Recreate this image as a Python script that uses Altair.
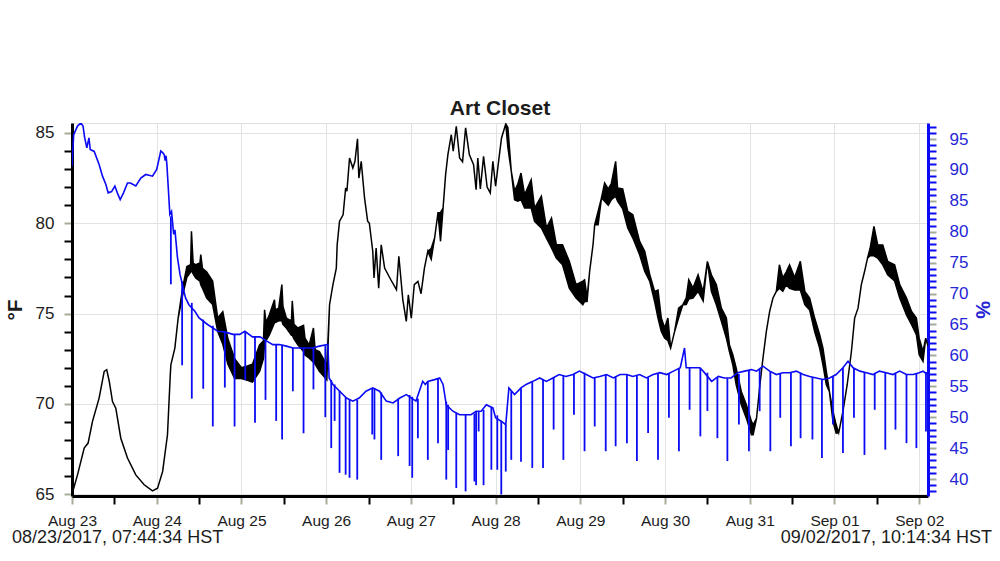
import altair as alt
import pandas as pd

FONT = "Liberation Sans"
TITLE = "Art Closet"
X_LABELS = ["Aug 23", "Aug 24", "Aug 25", "Aug 26", "Aug 27", "Aug 28",
            "Aug 29", "Aug 30", "Aug 31", "Sep 01", "Sep 02"]
START_LABEL = "08/23/2017, 07:44:34 HST"
END_LABEL = "09/02/2017, 10:14:34 HST"
X_END = 10.104          # days from 08/23 07:44:34 to 09/02 10:14:34
T_DOMAIN = [64.9, 85.55]
H_DOMAIN = [37.25, 97.6]

# Temperature (deg F): day offset, lower and upper envelope of the trace
TEMP_DAY = [
    0.0, 0.065, 0.144, 0.19, 0.242, 0.32, 0.38, 0.41, 0.44, 0.478,
    0.517, 0.576, 0.655, 0.753, 0.852, 0.95, 1.01, 1.07, 1.127, 1.16,
    1.167, 1.214, 1.253, 1.305, 1.356, 1.40, 1.41, 1.43, 1.46, 1.51,
    1.52, 1.54, 1.59, 1.66, 1.72, 1.78, 1.84, 1.92, 2.0, 2.07,
    2.13, 2.214, 2.26, 2.273, 2.29, 2.33, 2.39, 2.40, 2.44, 2.477,
    2.49, 2.53, 2.59, 2.60, 2.62, 2.666, 2.733, 2.75, 2.80, 2.85,
    2.87, 2.92, 3.008, 3.04, 3.08, 3.12, 3.13, 3.158, 3.20, 3.23,
    3.245, 3.276, 3.315, 3.34, 3.37, 3.386, 3.414, 3.453, 3.49, 3.51,
    3.55, 3.565, 3.59, 3.62, 3.65, 3.69, 3.76, 3.83, 3.858, 3.905,
    3.946, 3.97, 4.005, 4.04, 4.083, 4.12, 4.16, 4.2, 4.24, 4.28,
    4.32, 4.35, 4.38, 4.41, 4.437, 4.477, 4.50, 4.536, 4.575, 4.61,
    4.646, 4.69, 4.74, 4.77, 4.79, 4.82, 4.858, 4.90, 4.937, 4.968,
    5.0, 5.04, 5.07, 5.094, 5.12, 5.145, 5.185, 5.224, 5.26, 5.30,
    5.342, 5.42, 5.46, 5.54, 5.60, 5.66, 5.717, 5.79, 5.87, 5.95,
    6.03, 6.05, 6.08, 6.11, 6.15, 6.17, 6.21, 6.25, 6.287, 6.33,
    6.366, 6.417, 6.44, 6.5, 6.56, 6.62, 6.70, 6.76, 6.82, 6.877,
    6.917, 6.956, 6.995, 7.034, 7.066, 7.113, 7.16, 7.21, 7.25, 7.28,
    7.33, 7.39, 7.45, 7.50, 7.547, 7.606, 7.665, 7.724, 7.76, 7.80,
    7.84, 7.90, 7.96, 8.02, 8.04, 8.08, 8.12, 8.156, 8.196, 8.235,
    8.274, 8.314, 8.35, 8.39, 8.43, 8.47, 8.53, 8.597, 8.65, 8.707,
    8.766, 8.825, 8.864, 8.904, 8.94, 8.982, 9.02, 9.05, 9.10, 9.15,
    9.20, 9.238, 9.278, 9.317, 9.356, 9.39, 9.42, 9.466, 9.51, 9.57,
    9.628, 9.71, 9.77, 9.85, 9.91, 9.967, 10.0, 10.045, 10.077, 10.104,
]
TEMP_LO = [
    65.0, 66.07, 67.55, 67.83, 69.03, 70.32, 71.8, 71.89, 71.24, 70.13,
    69.76, 68.1, 67.0, 66.07, 65.52, 65.18, 65.33, 66.26, 68.29, 71.6,
    72.16, 73.09, 74.75, 76.0, 77.0, 77.3, 77.4, 77.2, 76.97, 76.8,
    76.6, 76.4, 75.86, 75.5, 74.0, 73.3, 72.2, 71.4, 71.4, 71.3,
    71.2, 71.8, 72.5, 73.3, 73.5, 73.82, 74.5, 74.5, 74.6, 74.6,
    74.4, 74.2, 73.8, 73.8, 73.6, 73.27, 72.9, 72.7, 72.53, 72.3,
    72.2, 71.8, 71.33, 75.49, 76.6, 77.52, 78.81, 80.11, 80.47, 81.95,
    81.77, 83.61, 83.06, 83.43, 84.68, 82.5, 83.43, 81.4, 80.11, 80.0,
    78.45, 76.97, 78.63, 76.41, 78.81, 77.52, 76.9, 76.32, 78.17, 75.76,
    74.57, 76.04, 74.75, 76.6, 76.78, 76.1, 77.52, 78.45, 78.0, 79.18,
    80.57, 79.0, 80.84, 82.69, 83.8, 84.9, 83.99, 85.37, 83.61, 83.4,
    85.28, 83.8, 83.24, 81.86, 83.61, 81.9, 83.7, 82.0, 81.68, 83.43,
    82.05, 83.61, 84.72, 85.09, 85.5, 84.2, 82.88, 81.3, 81.22, 81.3,
    80.84, 80.84, 80.11, 79.74, 79.18, 78.63, 78.07, 77.7, 76.41, 75.86,
    75.49, 75.67, 75.67, 77.34, 78.81, 79.92, 79.92, 81.4, 81.22, 81.0,
    81.3, 81.5, 81.22, 80.8, 79.74, 79.18, 78.26, 77.34, 76.78, 75.67,
    74.75, 74.01, 73.64, 73.5, 73.09, 74.01, 74.75, 75.49, 75.5, 75.8,
    75.86, 76.23, 75.7, 77.89, 76.23, 75.49, 74.57, 73.64, 72.9, 72.16,
    71.06, 69.95, 69.21, 68.29, 68.29, 69.2, 71.06, 72.53, 74.01, 75.12,
    75.86, 76.23, 76.4, 76.23, 76.6, 76.4, 76.3, 76.3, 75.49, 75.2,
    74.01, 73.09, 72.16, 71.06, 70.69, 69.03, 68.38, 68.4, 69.58, 71.06,
    72.9, 74.75, 75.3, 76.6, 77.34, 78.07, 78.2, 78.2, 78.07, 77.7,
    77.15, 76.8, 75.86, 74.93, 74.38, 73.83, 72.72, 72.35, 73.64, 73.2,
]
TEMP_HI = [
    65.0, 66.07, 67.55, 67.83, 69.03, 70.32, 71.8, 71.89, 71.24, 70.13,
    69.76, 68.1, 67.0, 66.07, 65.52, 65.18, 65.33, 66.26, 68.29, 71.6,
    72.16, 73.09, 74.75, 76.4, 77.6, 77.7, 79.55, 77.8, 77.7, 77.8,
    78.26, 77.5, 77.3, 76.8, 74.75, 75.1, 73.6, 72.5, 72.0, 72.1,
    72.2, 73.27, 73.5, 75.21, 74.5, 74.93, 75.76, 75.2, 75.3, 76.6,
    75.4, 74.75, 74.6, 75.7, 74.4, 74.2, 74.35, 73.64, 73.27, 74.2,
    73.0, 72.9, 72.16, 75.49, 76.6, 77.52, 78.81, 80.11, 80.47, 81.95,
    81.77, 83.61, 83.06, 83.43, 84.68, 82.5, 83.43, 81.4, 80.11, 80.0,
    78.45, 76.97, 78.63, 76.41, 78.81, 77.52, 76.9, 76.32, 78.17, 75.76,
    74.57, 76.04, 74.75, 76.6, 76.78, 76.1, 77.52, 78.45, 78.6, 79.18,
    80.57, 80.6, 80.84, 82.69, 83.8, 84.9, 83.99, 85.37, 83.61, 83.4,
    85.28, 83.8, 83.24, 81.86, 83.61, 81.9, 83.7, 82.0, 81.68, 83.43,
    82.05, 83.61, 84.72, 85.09, 85.5, 85.3, 82.88, 81.8, 82.14, 82.78,
    81.58, 82.41, 80.84, 81.5, 79.74, 80.29, 78.81, 78.81, 77.89, 76.6,
    76.8, 76.87, 75.9, 77.34, 78.81, 79.92, 80.66, 81.4, 82.23, 81.9,
    82.2, 83.43, 81.95, 81.9, 80.66, 80.47, 79.0, 78.45, 77.15, 76.23,
    76.3, 74.75, 74.2, 74.75, 73.09, 74.01, 75.3, 75.49, 75.86, 76.87,
    76.41, 77.15, 76.2, 77.89, 77.15, 76.6, 75.3, 74.75, 73.27, 72.72,
    71.98, 70.69, 69.95, 69.03, 68.84, 69.2, 71.06, 72.53, 74.01, 75.12,
    75.86, 76.23, 77.7, 76.97, 77.3, 77.7, 77.0, 77.89, 76.23, 75.86,
    74.75, 73.83, 73.09, 71.8, 70.69, 69.58, 68.84, 68.4, 69.58, 71.06,
    72.9, 74.75, 75.3, 76.6, 77.34, 78.07, 78.6, 79.83, 78.81, 78.8,
    77.89, 77.7, 76.6, 75.86, 75.12, 74.75, 73.64, 72.9, 73.64, 73.2,
]

# Relative humidity (%) baseline trace
HUM_DAY = [
    0.0, 0.02, 0.065, 0.104, 0.13, 0.15, 0.175, 0.20, 0.215, 0.262,
    0.32, 0.36, 0.40, 0.427, 0.467, 0.506, 0.535, 0.569, 0.608, 0.655,
    0.69, 0.753, 0.812, 0.871, 0.95, 1.0, 1.048, 1.07, 1.088, 1.10,
    1.11, 1.12, 1.155, 1.175, 1.20, 1.215, 1.245, 1.275, 1.34, 1.38,
    1.45, 1.50, 1.60, 1.72, 1.80, 1.90, 1.98, 2.04, 2.13, 2.22,
    2.30, 2.37, 2.45, 2.53, 2.61, 2.686, 2.76, 2.84, 2.92, 3.02,
    3.035, 3.08, 3.16, 3.24, 3.315, 3.39, 3.47, 3.55, 3.63, 3.71,
    3.79, 3.87, 3.946, 4.06, 4.14, 4.17, 4.2, 4.28, 4.34, 4.38,
    4.418, 4.496, 4.575, 4.654, 4.71, 4.77, 4.83, 4.89, 4.968, 5.0,
    5.067, 5.12, 5.157, 5.224, 5.3, 5.36, 5.44, 5.52, 5.60, 5.676,
    5.75, 5.83, 5.913, 5.99, 6.07, 6.15, 6.23, 6.31, 6.39, 6.47,
    6.55, 6.62, 6.70, 6.78, 6.86, 6.94, 7.02, 7.10, 7.18, 7.23,
    7.25, 7.33, 7.41, 7.45, 7.55, 7.63, 7.70, 7.78, 7.86, 7.94,
    8.02, 8.08, 8.156, 8.235, 8.314, 8.39, 8.47, 8.55, 8.63, 8.707,
    8.786, 8.864, 8.943, 9.02, 9.1, 9.16, 9.22, 9.3, 9.377, 9.455,
    9.53, 9.61, 9.69, 9.77, 9.85, 9.93, 10.0, 10.045, 10.07, 10.104,
]
HUM_VAL = [
    90.6, 95.7, 97.1, 97.6, 97.1, 95.2, 93.6, 95.2, 93.3, 93.0,
    90.9, 89.0, 87.65, 86.3, 86.5, 87.4, 86.3, 85.22, 86.3, 87.9,
    87.9, 87.4, 88.7, 89.27, 89.0, 90.08, 93.06, 92.8, 92.5, 91.5,
    92.3, 90.9, 82.8, 83.3, 79.6, 80.3, 75.8, 73.1, 69.3, 68.2,
    67.15, 66.07, 65.0, 63.9, 63.8, 63.4, 63.4, 63.9, 63.0, 63.0,
    62.3, 61.75, 61.75, 61.5, 61.2, 61.2, 61.2, 61.2, 61.5, 61.75,
    56.35, 55.3, 54.2, 53.1, 52.6, 53.1, 54.2, 54.74, 54.2, 52.6,
    52.3, 53.1, 53.65, 52.6, 55.8, 55.3, 55.8, 56.08, 56.35, 55.3,
    52.0, 50.97, 50.4, 50.4, 50.4, 50.97, 50.97, 52.0, 51.5, 49.9,
    49.35, 48.8, 54.74, 53.65, 54.74, 55.3, 55.8, 56.35, 55.8, 56.35,
    56.9, 56.6, 56.9, 57.45, 56.9, 56.35, 56.6, 56.9, 56.35, 56.9,
    56.9, 56.6, 56.9, 56.35, 56.9, 57.2, 56.9, 57.45, 58.0, 61.2,
    58.0, 58.0, 58.0, 57.45, 55.8, 56.6, 56.35, 56.35, 57.2, 57.45,
    57.7, 57.45, 58.25, 57.45, 56.9, 57.2, 57.2, 57.45, 56.9, 56.6,
    56.35, 56.1, 56.35, 56.9, 58.0, 59.05, 58.0, 57.45, 57.2, 56.9,
    57.45, 57.2, 56.9, 57.45, 56.9, 56.9, 57.2, 57.45, 57.2, 57.0,
]

# Sharp humidity drops: day, value before the drop, lowest value reached
SPIKE_DAY = [
    1.167, 1.30, 1.414, 1.549, 1.662, 1.804, 1.919, 2.045, 2.16, 2.284,
    2.41, 2.48, 2.607, 2.733, 2.85, 2.99, 3.06, 3.10, 3.158, 3.23,
    3.276, 3.367, 3.544, 3.57, 3.65, 3.85, 3.985, 4.016, 4.083, 4.20,
    4.32, 4.418, 4.44, 4.536, 4.646, 4.75, 4.77, 4.80, 4.858, 4.95,
    5.02, 5.067, 5.12, 5.185, 5.30, 5.433, 5.56, 5.685, 5.80, 5.925,
    6.05, 6.17, 6.30, 6.417, 6.55, 6.668, 6.80, 6.917, 7.046, 7.164,
    7.29, 7.417, 7.50, 7.618, 7.736, 7.872, 7.99, 8.117, 8.243, 8.36,
    8.486, 8.60, 8.74, 8.852, 8.982, 9.10, 9.23, 9.354, 9.475, 9.60,
    9.72, 9.85, 9.967, 10.08,
]
SPIKE_TOP = [
    82.5, 72.0, 68.5, 65.8, 64.8, 63.8, 63.4, 63.8, 63.0, 62.4,
    61.8, 61.7, 61.2, 61.2, 61.2, 61.6, 56.0, 55.3, 54.3, 53.2,
    52.9, 52.8, 54.7, 54.7, 54.0, 53.0, 53.6, 53.3, 53.0, 55.8,
    56.3, 52.5, 52.0, 50.7, 50.4, 50.6, 50.9, 50.9, 51.2, 51.6,
    50.3, 49.4, 48.8, 54.2, 54.7, 55.8, 56.2, 56.4, 56.8, 57.0,
    57.2, 56.4, 56.9, 56.6, 56.9, 56.7, 56.5, 57.0, 57.0, 57.8,
    58.0, 58.0, 57.2, 56.5, 56.3, 57.0, 57.5, 57.8, 57.4, 57.0,
    57.2, 57.2, 56.5, 56.1, 56.6, 58.0, 57.9, 57.2, 57.0, 57.2,
    57.0, 56.9, 57.1, 57.3,
]
SPIKE_BOTTOM = [
    71.5, 58.4, 53.0, 54.6, 48.5, 54.8, 48.5, 56.0, 49.1, 52.8,
    49.4, 46.4, 54.2, 47.4, 54.5, 50.0, 45.0, 49.4, 41.0, 40.7,
    40.2, 39.9, 47.2, 46.4, 43.1, 43.7, 42.1, 40.2, 46.6, 43.1,
    45.8, 39.9, 44.7, 38.55, 38.0, 39.6, 39.0, 47.7, 39.0, 41.5,
    41.5, 37.5, 41.2, 43.1, 42.8, 41.8, 41.8, 48.0, 43.1, 50.4,
    44.5, 48.5, 44.5, 45.3, 45.8, 42.9, 47.45, 43.1, 49.9, 44.5,
    51.2, 46.9, 51.0, 46.6, 42.9, 48.8, 44.5, 50.97, 44.5, 49.9,
    45.3, 46.6, 46.4, 43.4, 48.8, 44.2, 49.9, 43.9, 51.2, 44.75,
    48.0, 45.8, 45.0, 47.7,
]

BLUE = "#0a0af5"
BLUE_TEXT = "#2626d6"
MAJOR_TICK = "#a4ad98"
TEXT = "#1c1c1c"

temp = pd.DataFrame({"day": TEMP_DAY, "lo": TEMP_LO, "hi": TEMP_HI})
hum = pd.DataFrame({"day": HUM_DAY, "rh": HUM_VAL})
spk = pd.DataFrame({"day": SPIKE_DAY, "top": SPIKE_TOP, "bottom": SPIKE_BOTTOM})
notes = pd.DataFrame({"txt": [START_LABEL, END_LABEL]})

label_list = "[" + ",".join("'" + s + "'" for s in X_LABELS) + "]"
x_scale = alt.Scale(domain=[0, X_END], nice=False, zero=False)
x_axis = alt.Axis(
    values=[i / 2 for i in range(2 * (len(X_LABELS) - 1) + 1)],
    labelExpr="datum.value % 1 === 0 ? " + label_list + "[datum.value] : ''",
    title=None, tickSize=8, tickWidth=2,
    tickColor={"condition": {"test": "datum.value % 1 === 0", "value": MAJOR_TICK}, "value": "#000000"},
    domainColor="#000000", domainWidth=3,
    grid=True, gridColor="#e3e3e3", gridWidth=1,
    gridOpacity={"condition": {"test": "datum.value % 1 === 0", "value": 1}, "value": 0},
    labelFont=FONT, labelFontSize=15.5, labelColor=TEXT, labelPadding=9, labelFlush=False,
)
t_axis = alt.Axis(
    values=list(range(65, 86)), orient="left",
    labelExpr="datum.value % 5 === 0 ? datum.label : ''",
    title="°F", titleFont=FONT, titleFontSize=21, titleFontWeight="bold", titleColor=TEXT,
    titlePadding=10,
    tickSize=8, tickWidth=2,
    tickColor={"condition": {"test": "datum.value % 5 === 0", "value": MAJOR_TICK}, "value": "#000000"},
    domainColor="#000000", domainWidth=3,
    grid=True, gridColor="#e3e3e3", gridWidth=1,
    gridOpacity={"condition": {"test": "datum.value % 5 === 0", "value": 1}, "value": 0},
    labelFont=FONT, labelFontSize=17, labelColor=TEXT, labelPadding=10,
)
h_axis = alt.Axis(
    values=list(range(38, 98)), orient="right",
    labelExpr="datum.value % 5 === 0 ? datum.label : ''",
    title="%", titleFont=FONT, titleFontSize=20, titleFontWeight="bold", titleColor=BLUE_TEXT,
    titlePadding=4,
    tickSize=8, tickWidth=2,
    tickColor={"condition": {"test": "datum.value % 5 === 0", "value": MAJOR_TICK}, "value": BLUE},
    domainColor=BLUE, domainWidth=3, grid=False,
    labelFont=FONT, labelFontSize=17, labelColor=BLUE_TEXT, labelPadding=13,
)

t_scale = alt.Scale(domain=T_DOMAIN, nice=False, zero=False)
h_scale = alt.Scale(domain=H_DOMAIN, nice=False, zero=False)

temp_layer = alt.Chart(temp).mark_area(
    color="#000000", stroke="#000000", strokeWidth=1.5, clip=True
).encode(
    x=alt.X("day:Q", scale=x_scale, axis=x_axis),
    y=alt.Y("lo:Q", scale=t_scale, axis=t_axis),
    y2="hi:Q",
)

hum_line = alt.Chart(hum).mark_line(color=BLUE, strokeWidth=1.6, clip=True).encode(
    x=alt.X("day:Q", scale=x_scale, axis=x_axis),
    y=alt.Y("rh:Q", scale=h_scale, axis=h_axis),
)
hum_spikes = alt.Chart(spk).mark_rule(color=BLUE, strokeWidth=1.8, clip=True).encode(
    x=alt.X("day:Q", scale=x_scale, axis=x_axis),
    y=alt.Y("top:Q", scale=h_scale, axis=h_axis),
    y2="bottom:Q",
)
hum_layer = alt.layer(hum_line, hum_spikes)

start_text = alt.Chart(notes.iloc[[0]]).mark_text(
    align="left", baseline="middle", font=FONT, fontSize=18, color=TEXT
).encode(x=alt.value(-60), y=alt.value(415), text="txt:N")
end_text = alt.Chart(notes.iloc[[1]]).mark_text(
    align="right", baseline="middle", font=FONT, fontSize=18, color=TEXT
).encode(x=alt.value(920), y=alt.value(415), text="txt:N")

chart = alt.layer(temp_layer, hum_layer, start_text, end_text).resolve_scale(
    y="independent"
).properties(
    width=856, height=373,
    title=alt.TitleParams(TITLE, font=FONT, fontSize=21, fontWeight="bold", color=TEXT,
                          anchor="middle", offset=4),
    autosize=alt.AutoSizeParams(type="none"),
    padding={"left": 72, "top": 123, "right": 72, "bottom": 65},
).configure_view(stroke=None).configure(background="white")

chart.save("out.html", embed_options={"renderer": "svg", "actions": False})
